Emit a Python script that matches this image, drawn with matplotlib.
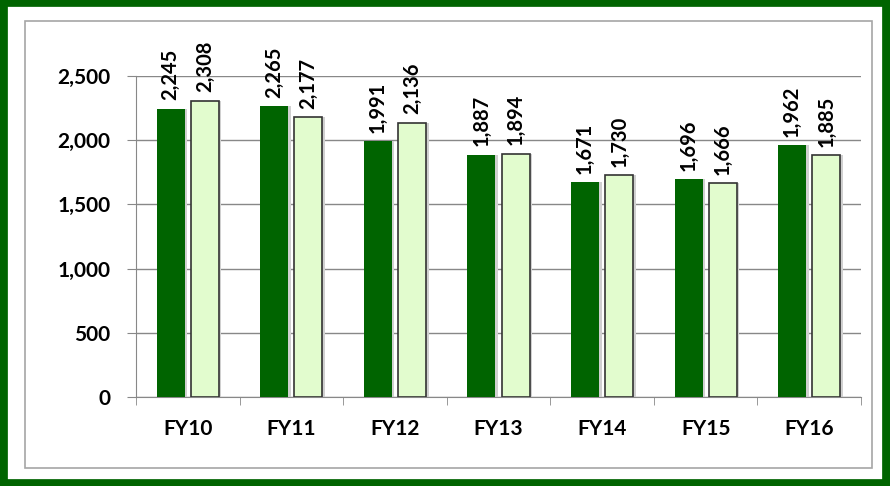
import matplotlib
matplotlib.use("Agg")
from matplotlib import pyplot as plt
from matplotlib.patches import Rectangle
import numpy as np

plt.rcParams['font.family'] = ['Lato', 'DejaVu Sans']

# data
years = ["FY10", "FY11", "FY12", "FY13", "FY14", "FY15", "FY16"]
dark_vals = [2245, 2265, 1991, 1887, 1671, 1696, 1962]
light_vals = [2308, 2177, 2136, 1894, 1730, 1666, 1885]
y_ticks = [0, 500, 1000, 1500, 2000, 2500]

dark_green = "#006400"
light_green = "#e2fcce"

fig = plt.figure(figsize=(8.9, 4.86), dpi=100)

# green outer frame and grey inner box
fig.patches.append(Rectangle((0.003, 0.005), 0.994, 0.99, transform=fig.transFigure,
                             fill=False, edgecolor=dark_green, linewidth=7))
fig.patches.append(Rectangle((25 / 890, 1 - 468 / 486), 847 / 890, 447 / 486,
                             transform=fig.transFigure, fill=False,
                             edgecolor="#a6a6a6", linewidth=1.2))

ax = fig.add_axes([136 / 890, 1 - 397 / 486, 725 / 890, 321 / 486])

x = np.arange(len(years))
w = 0.27
off = 0.165
# light shadow behind the bars
ax.bar(x - off + 0.025, dark_vals, w, color="#d0d0d0", zorder=2)
ax.bar(x + off + 0.025, light_vals, w, color="#d0d0d0", zorder=2)
b1 = ax.bar(x - off, dark_vals, w, color=dark_green, zorder=3)
b2 = ax.bar(x + off, light_vals, w, color=light_green, edgecolor="#333333",
            linewidth=1.2, zorder=3)

for bars, vals in [(b1, dark_vals), (b2, light_vals)]:
    for r, v in zip(bars, vals):
        ax.annotate(f"{v:,}", (r.get_x() + r.get_width() / 2, v),
                    xytext=(0, 6), textcoords="offset points",
                    rotation=90, ha="center", va="bottom",
                    fontsize=14.5, fontweight="bold", color="black")

ax.set_xlim(-0.5, len(years) - 0.5)
ax.set_ylim(0, 2500)
ax.set_yticks(y_ticks)
ax.set_yticklabels([f"{t:,}" for t in y_ticks], fontsize=15, fontweight="bold")
ax.set_xticks(x)
ax.set_xticklabels(years, fontsize=15, fontweight="bold")
ax.set_xticks(np.arange(len(years) + 1) - 0.5, minor=True)
ax.tick_params(axis="x", which="major", length=0, pad=16)
ax.tick_params(axis="x", which="minor", length=6, color="#888888", direction="out")
ax.tick_params(axis="y", length=6.5, color="#888888", pad=12)

ax.grid(axis="y", color="#888888", linewidth=1, zorder=0)
ax.set_axisbelow(True)
for s in ["top", "right"]:
    ax.spines[s].set_visible(False)
ax.spines["left"].set_color("#888888")
ax.spines["bottom"].set_color("#888888")

plt.savefig("out.png", dpi=100)
